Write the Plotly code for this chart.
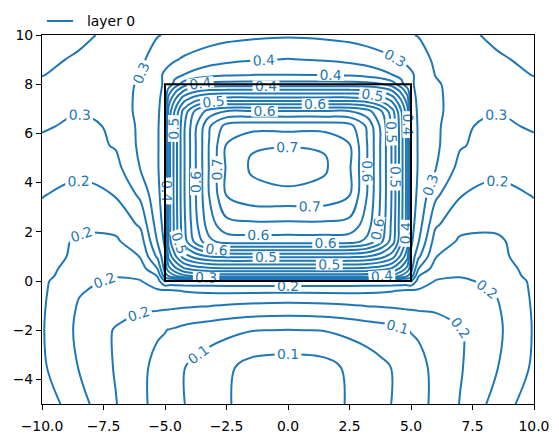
import plotly.graph_objects as go

# Grid node positions (data units)
x_nodes = [-10, -8.5, -7, -6, -5.3, -5, -4.85, -4.6, -4.25, -3.8, -3.2, -2.5, -1.5, 0,
           1.5, 2.5, 3.2, 3.8, 4.25, 4.6, 4.85, 5, 5.3, 6, 7, 8.5, 10]
y_nodes = [-5, -3.5, -2, -1, -0.4, 0, 0.2, 0.5, 1, 1.6, 2.3, 3.5, 4.6, 5.5, 6.3, 6.9,
           7.4, 7.75, 8, 8.4, 9, 10]

# Field values estimated from the contour positions in the picture (one row per y node)
z_grid = [
    [0.240, 0.210, 0.176, 0.155, 0.143, 0.139, 0.137, 0.132, 0.126, 0.118, 0.110, 0.103, 0.088, 0.078, 0.088, 0.103, 0.110, 0.118, 0.126, 0.132, 0.137, 0.139, 0.143, 0.155, 0.176, 0.210, 0.240],
    [0.229, 0.199, 0.173, 0.156, 0.143, 0.139, 0.136, 0.131, 0.126, 0.120, 0.113, 0.105, 0.091, 0.087, 0.091, 0.105, 0.113, 0.120, 0.126, 0.131, 0.136, 0.139, 0.143, 0.156, 0.173, 0.199, 0.229],
    [0.227, 0.195, 0.173, 0.163, 0.153, 0.151, 0.149, 0.147, 0.143, 0.139, 0.135, 0.131, 0.126, 0.124, 0.126, 0.131, 0.135, 0.139, 0.143, 0.147, 0.149, 0.151, 0.153, 0.163, 0.173, 0.195, 0.227],
    [0.228, 0.198, 0.185, 0.180, 0.181, 0.180, 0.180, 0.179, 0.178, 0.177, 0.176, 0.173, 0.170, 0.168, 0.170, 0.173, 0.176, 0.177, 0.178, 0.179, 0.180, 0.180, 0.181, 0.180, 0.185, 0.198, 0.228],
    [0.229, 0.202, 0.192, 0.190, 0.197, 0.195, 0.196, 0.198, 0.201, 0.203, 0.204, 0.205, 0.205, 0.205, 0.205, 0.205, 0.204, 0.203, 0.201, 0.198, 0.196, 0.195, 0.197, 0.190, 0.192, 0.202, 0.229],
    [0.230, 0.205, 0.197, 0.199, 0.215, 0.252, 0.246, 0.245, 0.245, 0.245, 0.245, 0.245, 0.245, 0.245, 0.245, 0.245, 0.245, 0.245, 0.245, 0.245, 0.246, 0.252, 0.215, 0.199, 0.197, 0.205, 0.230],
    [0.231, 0.213, 0.201, 0.205, 0.226, 0.290, 0.301, 0.321, 0.341, 0.352, 0.358, 0.360, 0.360, 0.360, 0.360, 0.360, 0.358, 0.352, 0.341, 0.321, 0.301, 0.290, 0.226, 0.205, 0.201, 0.213, 0.231],
    [0.232, 0.216, 0.205, 0.212, 0.251, 0.310, 0.341, 0.368, 0.396, 0.411, 0.419, 0.422, 0.422, 0.422, 0.422, 0.422, 0.419, 0.411, 0.396, 0.368, 0.341, 0.310, 0.251, 0.212, 0.205, 0.216, 0.232],
    [0.235, 0.220, 0.214, 0.226, 0.280, 0.320, 0.384, 0.419, 0.460, 0.484, 0.501, 0.505, 0.505, 0.505, 0.505, 0.505, 0.501, 0.484, 0.460, 0.419, 0.384, 0.320, 0.280, 0.226, 0.214, 0.220, 0.235],
    [0.238, 0.221, 0.222, 0.237, 0.302, 0.330, 0.411, 0.455, 0.511, 0.554, 0.594, 0.610, 0.612, 0.612, 0.612, 0.610, 0.594, 0.554, 0.511, 0.455, 0.411, 0.330, 0.302, 0.237, 0.222, 0.221, 0.238],
    [0.242, 0.230, 0.231, 0.254, 0.312, 0.335, 0.414, 0.458, 0.517, 0.565, 0.614, 0.642, 0.645, 0.645, 0.645, 0.642, 0.614, 0.565, 0.517, 0.458, 0.414, 0.335, 0.312, 0.254, 0.231, 0.230, 0.242],
    [0.251, 0.243, 0.251, 0.280, 0.320, 0.338, 0.415, 0.460, 0.520, 0.570, 0.626, 0.676, 0.692, 0.693, 0.692, 0.676, 0.626, 0.570, 0.520, 0.460, 0.415, 0.338, 0.320, 0.280, 0.251, 0.243, 0.251],
    [0.260, 0.256, 0.267, 0.301, 0.323, 0.340, 0.415, 0.460, 0.520, 0.570, 0.627, 0.678, 0.703, 0.715, 0.703, 0.678, 0.627, 0.570, 0.520, 0.460, 0.415, 0.340, 0.323, 0.301, 0.267, 0.256, 0.260],
    [0.269, 0.265, 0.277, 0.305, 0.323, 0.340, 0.415, 0.460, 0.520, 0.570, 0.627, 0.677, 0.698, 0.699, 0.698, 0.677, 0.627, 0.570, 0.520, 0.460, 0.415, 0.340, 0.323, 0.305, 0.277, 0.265, 0.269],
    [0.278, 0.270, 0.278, 0.306, 0.323, 0.338, 0.414, 0.459, 0.519, 0.568, 0.622, 0.659, 0.665, 0.665, 0.665, 0.659, 0.622, 0.568, 0.519, 0.459, 0.414, 0.338, 0.323, 0.306, 0.278, 0.270, 0.278],
    [0.283, 0.276, 0.287, 0.306, 0.322, 0.336, 0.410, 0.453, 0.508, 0.551, 0.586, 0.601, 0.602, 0.602, 0.602, 0.601, 0.586, 0.551, 0.508, 0.453, 0.410, 0.336, 0.322, 0.306, 0.287, 0.276, 0.283],
    [0.284, 0.280, 0.289, 0.305, 0.321, 0.333, 0.386, 0.422, 0.463, 0.488, 0.505, 0.510, 0.510, 0.510, 0.510, 0.510, 0.505, 0.488, 0.463, 0.422, 0.386, 0.333, 0.321, 0.305, 0.289, 0.280, 0.284],
    [0.282, 0.281, 0.290, 0.304, 0.320, 0.330, 0.360, 0.390, 0.423, 0.441, 0.452, 0.455, 0.455, 0.455, 0.455, 0.455, 0.452, 0.441, 0.423, 0.390, 0.360, 0.330, 0.320, 0.304, 0.290, 0.281, 0.282],
    [0.279, 0.282, 0.290, 0.303, 0.320, 0.328, 0.334, 0.360, 0.386, 0.401, 0.408, 0.410, 0.410, 0.410, 0.410, 0.410, 0.408, 0.401, 0.386, 0.360, 0.334, 0.328, 0.320, 0.303, 0.290, 0.282, 0.279],
    [0.274, 0.283, 0.290, 0.299, 0.318, 0.329, 0.333, 0.340, 0.349, 0.357, 0.365, 0.370, 0.373, 0.374, 0.373, 0.370, 0.365, 0.357, 0.349, 0.340, 0.333, 0.329, 0.318, 0.299, 0.290, 0.283, 0.274],
    [0.270, 0.278, 0.286, 0.296, 0.310, 0.316, 0.319, 0.323, 0.328, 0.333, 0.339, 0.344, 0.348, 0.351, 0.348, 0.344, 0.339, 0.333, 0.328, 0.323, 0.319, 0.316, 0.310, 0.296, 0.286, 0.278, 0.270],
    [0.262, 0.270, 0.281, 0.292, 0.299, 0.301, 0.302, 0.304, 0.306, 0.309, 0.313, 0.317, 0.320, 0.322, 0.320, 0.317, 0.313, 0.309, 0.306, 0.304, 0.302, 0.301, 0.299, 0.292, 0.281, 0.270, 0.262],
]

# Contour levels
level_start = 0.1
level_end = 0.7
level_step = 0.025

# Layer outline
rect_x = [-5, 5]
rect_y = [0, 8]
legend_name = "layer 0"

# Axis ticks
x_tickvals = [-10, -7.5, -5, -2.5, 0, 2.5, 5, 7.5, 10]
x_ticktext = ["\u221210.0", "\u22127.5", "\u22125.0", "\u22122.5", "0.0", "2.5", "5.0", "7.5", "10.0"]
y_tickvals = [-4, -2, 0, 2, 4, 6, 8, 10]
y_ticktext = ["\u22124", "\u22122", "0", "2", "4", "6", "8", "10"]

BLUE = "#1f77b4"
FONT = "DejaVu Sans"
FS = 13.9

fig = go.Figure()
fig.add_trace(go.Contour(
    x=x_nodes, y=y_nodes, z=z_grid,
    contours=dict(start=level_start, end=level_end, size=level_step,
                  coloring="lines", showlabels=True, labelformat=".1f",
                  labelfont=dict(family=FONT, size=FS, color=BLUE)),
    colorscale=[[0, BLUE], [1, BLUE]],
    showscale=False,
    line=dict(width=2, smoothing=1.0),
    hoverinfo="skip",
    showlegend=False,
))
fig.add_shape(type="rect", x0=rect_x[0], x1=rect_x[1], y0=rect_y[0], y1=rect_y[1],
              line=dict(color="black", width=2), layer="above")

# Legend drawn above the axes (line sample + label), like the reference
fig.add_shape(type="line", xref="paper", yref="paper", x0=0.010, x1=0.063, y0=1.038, y1=1.038,
              line=dict(color=BLUE, width=2))
fig.add_annotation(xref="paper", yref="paper", x=0.087, y=1.038, xanchor="left", yanchor="middle",
                   text=legend_name, showarrow=False,
                   font=dict(family=FONT, size=FS, color="black"))

axis_common = dict(showline=True, mirror=True, linecolor="black", linewidth=1.1,
                   ticks="outside", ticklen=5, tickwidth=1.1, tickcolor="black",
                   showgrid=False, zeroline=False, automargin=False,
                   tickfont=dict(family=FONT, size=FS, color="black"))
fig.update_xaxes(range=[-10, 10], tickvals=x_tickvals, ticktext=x_ticktext,
                 ticklabelstandoff=4, **axis_common)
fig.update_yaxes(range=[-5, 10], tickvals=y_tickvals, ticktext=y_ticktext, **axis_common)

fig.update_layout(
    width=559, height=438,
    margin=dict(l=42, r=25, t=35, b=34, autoexpand=False),
    plot_bgcolor="white", paper_bgcolor="white",
    font=dict(family=FONT, size=FS, color="black"),
    showlegend=False,
)

fig.write_html("out.html")
